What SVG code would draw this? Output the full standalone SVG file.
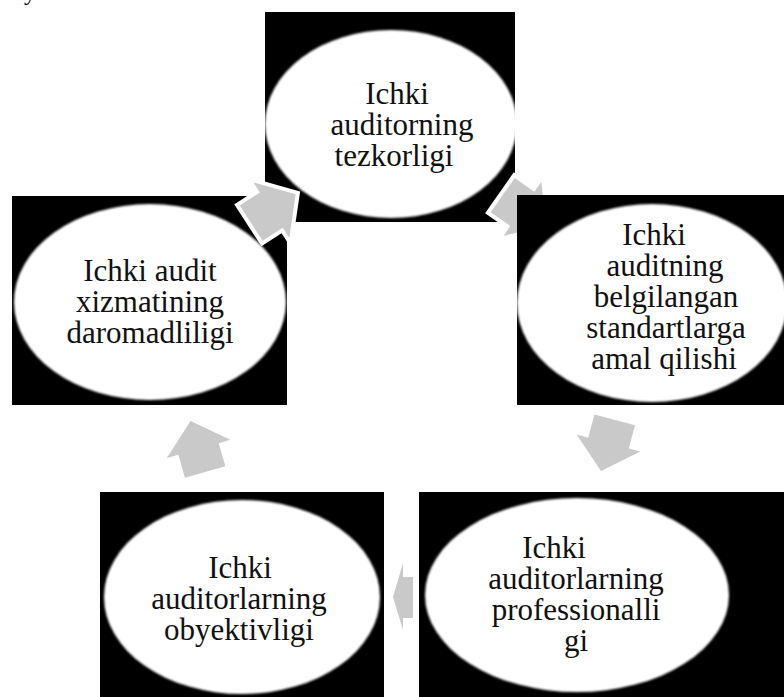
<svg xmlns="http://www.w3.org/2000/svg" width="784" height="697" viewBox="0 0 784 697">
<style>
.box{fill:#000}
.ell{fill:#fff;filter:url(#soft)}
.t{font-family:"Liberation Serif","Times New Roman",serif;font-size:31px;fill:#111;text-anchor:middle}
.arr{fill:#c9c9c9}
.halo{fill:#c9c9c9;stroke:#fff;stroke-width:8;stroke-linejoin:miter;paint-order:stroke}
</style>
<defs>
<filter id="soft" x="-5%" y="-5%" width="110%" height="110%"><feGaussianBlur stdDeviation="1.2"/></filter>
<polygon id="ar" points="-26,-21 -2,-21 -2,-33 27,0 -2,33 -2,21 -26,21"/>
</defs>
<rect width="784" height="697" fill="#fff"/>
<text x="24" y="0" font-family="Liberation Serif, serif" font-size="24" fill="#000">y</text>

<g id="node-top">
<rect class="box" x="265" y="12" width="250" height="210"/>
<ellipse class="ell" cx="391" cy="124" rx="126" ry="94"/>
<text class="t" x="397" y="104">Ichki</text>
<text class="t" x="402" y="135">auditorning</text>
<text class="t" x="394" y="166">tezkorligi</text>
</g>

<g id="connectors-a">
<use href="#ar" class="halo" transform="translate(524,210) rotate(35)"/>
</g>

<g id="node-right">
<rect class="box" x="517" y="195" width="267" height="210"/>
<ellipse class="ell" cx="652" cy="303" rx="135" ry="99"/>
<text class="t" x="654" y="245">Ichki</text>
<text class="t" x="665" y="276">auditning</text>
<text class="t" x="666" y="307">belgilangan</text>
<text class="t" x="666" y="338">standartlarga</text>
<text class="t" x="664" y="369">amal qilishi</text>
</g>

<g id="node-left">
<rect class="box" x="12" y="196" width="275" height="209"/>
<ellipse class="ell" cx="150" cy="302" rx="136" ry="98"/>
<text class="t" x="150" y="281">Ichki audit</text>
<text class="t" x="150" y="312">xizmatining</text>
<text class="t" x="150" y="343">daromadliligi</text>
</g>

<g id="node-bottom-left">
<rect class="box" x="100" y="492" width="284" height="205"/>
<ellipse class="ell" cx="242" cy="597" rx="138" ry="97"/>
<text class="t" x="240" y="578">Ichki</text>
<text class="t" x="239" y="609">auditorlarning</text>
<text class="t" x="239" y="640">obyektivligi</text>
</g>

<g id="node-bottom-right">
<rect class="box" x="419" y="492" width="365" height="205"/>
<ellipse class="ell" cx="577" cy="595" rx="152" ry="97"/>
<text class="t" x="554" y="558">Ichki</text>
<text class="t" x="576" y="589">auditorlarning</text>
<text class="t" x="576" y="620">professionalli</text>
<text class="t" x="576" y="651">gi</text>
</g>

<g id="connectors">
<use href="#ar" class="halo" transform="translate(273,209) rotate(-33)"/>
<use href="#ar" class="arr" transform="translate(608,445) rotate(105)"/>
<polygon class="halo" points="413,577 403,577 403,563 393,597 403,630 403,618 413,618"/>
<use href="#ar" class="arr" transform="translate(198,447) rotate(-106)"/>
</g>
</svg>
